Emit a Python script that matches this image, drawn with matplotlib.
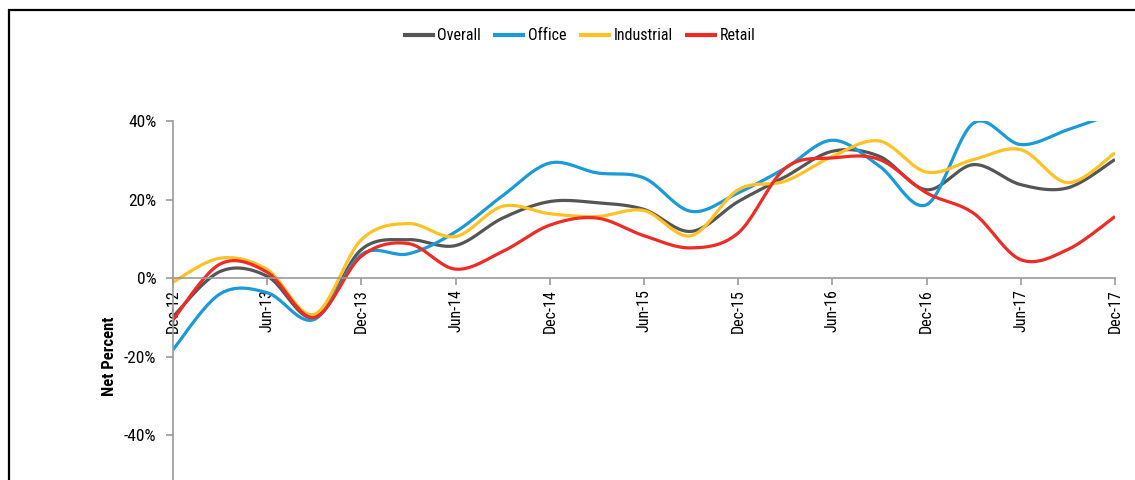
import numpy as np
import matplotlib
matplotlib.use("Agg")
import matplotlib.pyplot as plt
import matplotlib.patches as mpatches

# quarterly survey results, net percent
QUARTERS = ['Dec-12', 'Mar-13', 'Jun-13', 'Sep-13', 'Dec-13', 'Mar-14', 'Jun-14',
            'Sep-14', 'Dec-14', 'Mar-15', 'Jun-15', 'Sep-15', 'Dec-15', 'Mar-16',
            'Jun-16', 'Sep-16', 'Dec-16', 'Mar-17', 'Jun-17', 'Sep-17', 'Dec-17']

overall    = [-9.8, 1.7, 0.5, -10.0, 7.3, 9.8, 8.3, 15.3, 19.5, 19.2, 17.5,
              11.9, 19.5, 25.8, 32.3, 31.0, 22.5, 28.9, 23.8, 23.0, 30.2]
office     = [-18.2, -4.0, -3.7, -10.5, 6.0, 6.2, 11.8, 21.0, 29.3, 26.8, 25.5,
              17.0, 21.7, 28.0, 35.1, 28.5, 18.7, 39.5, 34.0, 37.8, 42.0]
industrial = [-1.0, 5.1, 2.2, -9.2, 9.8, 13.9, 10.6, 18.3, 16.4, 15.7, 17.2,
              10.8, 22.5, 24.7, 31.0, 34.9, 27.0, 30.2, 32.7, 24.3, 31.9]
retail     = [-10.6, 3.6, 1.5, -10.0, 5.6, 8.8, 2.3, 6.8, 13.5, 15.3, 10.8,
              7.7, 11.5, 28.0, 30.6, 30.2, 21.7, 16.5, 4.7, 7.3, 15.7]

SERIES = [('Overall', overall, '#555555'),
          ('Office', office, '#1a9ad6'),
          ('Industrial', industrial, '#ffc125'),
          ('Retail', retail, '#ee2b24')]

FONT = ['Roboto Condensed', 'DejaVu Sans']


def smooth(xs, ys, n=24):
    # spreadsheet-style smoothed line: cubic bezier through each point,
    # control points set from the neighbouring points
    pts = np.column_stack([xs, ys]).astype(float)
    ext = np.vstack([pts[0], pts, pts[-1]])
    t = np.linspace(0, 1, n)[:, None]
    out = []
    for i in range(len(pts) - 1):
        p0, p1, p2, p3 = ext[i], ext[i + 1], ext[i + 2], ext[i + 3]
        c1 = p1 + (p2 - p0) / 6
        c2 = p2 - (p3 - p1) / 6
        seg = (1 - t)**3 * p1 + 3 * (1 - t)**2 * t * c1 + 3 * (1 - t) * t**2 * c2 + t**3 * p2
        out.append(seg if i == 0 else seg[1:])
    curve = np.vstack(out)
    return curve[:, 0], curve[:, 1]


W, H = 1135, 480
fig = plt.figure(figsize=(W / 100, H / 100), dpi=100)

# outer frame, runs off the right and bottom edge
fig.patches.append(mpatches.Rectangle((9 / W, -0.1), 1.2, 1 - 10 / H + 0.1,
                                      transform=fig.transFigure, fill=False,
                                      edgecolor='black', linewidth=1.6))

# plot area: 40% at y=121px, -80% at y=592px (below the edge)
left, right, top, bottom = 173, 1115, 121, 592.5
ax = fig.add_axes([left / W, (H - bottom) / H, (right - left) / W, (bottom - top) / H])

x = np.arange(len(QUARTERS))
for name, vals, color in SERIES:
    sx, sy = smooth(x, vals)
    ax.plot(sx, sy, color=color, linewidth=2.3, label=name, solid_capstyle='butt')

ax.set_xlim(0, len(QUARTERS) - 1)
ax.set_ylim(-80, 40)

ax.spines['top'].set_visible(False)
ax.spines['right'].set_visible(False)
ax.spines['bottom'].set_position(('data', 0))
for s in ('left', 'bottom'):
    ax.spines[s].set_color('#999999')
    ax.spines[s].set_linewidth(1.2)

ax.set_xticks(x[::2])
ax.set_xticklabels(QUARTERS[::2], rotation=90, family=FONT, fontsize=11.5)
ax.set_yticks([-40, -20, 0, 20, 40])
ax.set_yticklabels(['-40%', '-20%', '0%', '20%', '40%'], family=FONT, fontsize=12.5)
ax.tick_params(axis='both', colors='#999999', length=5, width=1.2, labelcolor='black')
ax.tick_params(axis='y', pad=7)
ax.tick_params(axis='x', pad=3)

ax.set_ylabel('Net Percent', family=FONT, fontsize=12, fontweight='bold', labelpad=5)

leg = fig.legend(loc='center', bbox_to_anchor=(579 / W, 1 - 36 / H), ncol=4,
                 frameon=False, prop={'family': FONT, 'size': 11.5},
                 handlelength=2.0, handletextpad=0.15, columnspacing=0.8)
for line in leg.get_lines():
    line.set_linewidth(3)

fig.savefig('out.png', dpi=100)
